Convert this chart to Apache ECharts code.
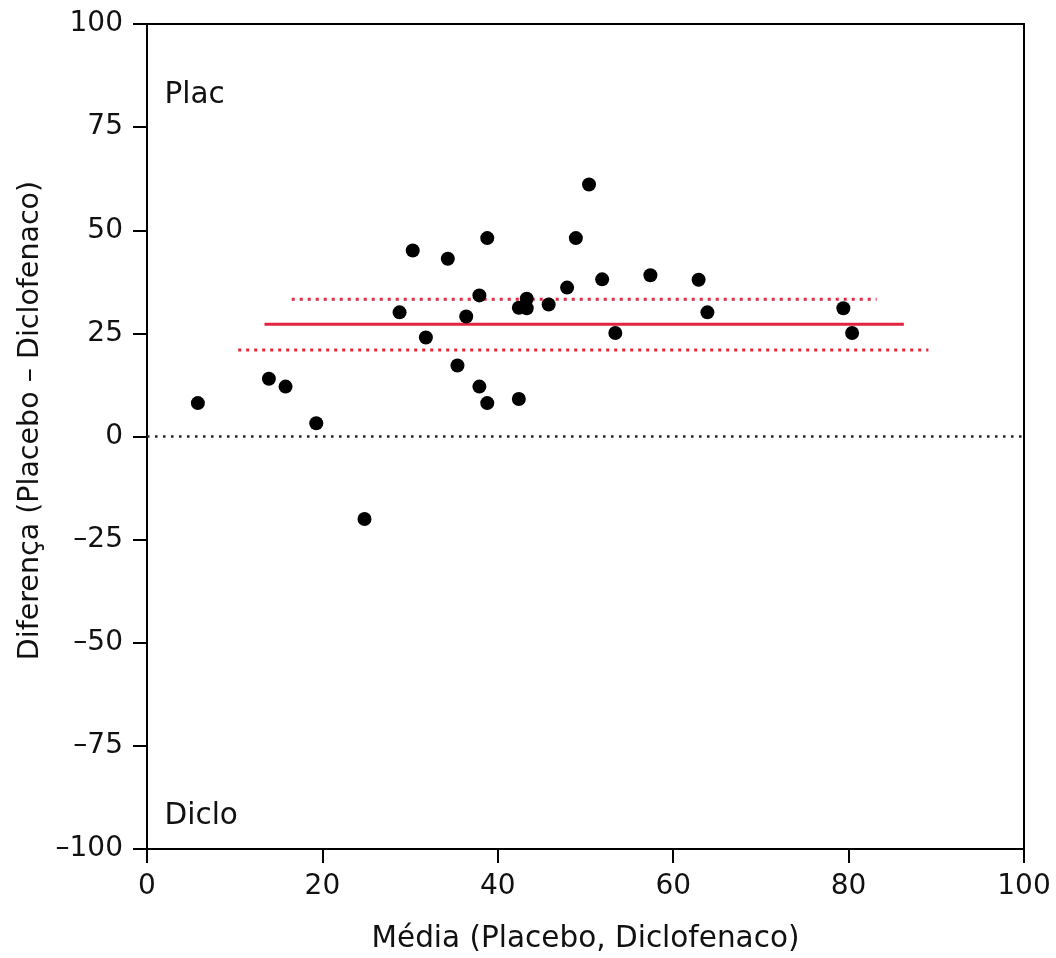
<!DOCTYPE html>
<html>
<head>
<meta charset="utf-8">
<script src="https://cdn.jsdelivr.net/npm/echarts@6/dist/echarts.min.js"></script>
<style>html,body{margin:0;padding:0;background:#fff}#c{width:1056px;height:958px}</style>
</head>
<body>
<div id="c"></div>
<script>
// Bland-Altman data: mean (x) and difference (y)
const meanVals = [5.8, 13.9, 15.8, 19.3, 24.8, 28.8, 30.3, 31.8, 34.3, 35.4, 36.4, 37.9, 37.9, 38.8, 38.8, 42.4, 42.4, 43.3, 43.3, 45.8, 47.9, 48.9, 50.4, 51.9, 53.4, 57.4, 62.9, 63.9, 79.4, 80.4];
const diffVals = [8.1, 14.0, 12.1, 3.2, -20.0, 30.1, 45.1, 24.0, 43.1, 17.2, 29.1, 34.2, 12.1, 48.1, 8.1, 31.2, 9.1, 33.4, 31.1, 32.0, 36.1, 48.1, 61.1, 38.1, 25.1, 39.1, 38.0, 30.1, 31.1, 25.1];
// mean difference line and its confidence band lines: [xStart, xEnd], y
const meanDiffX = [13.4, 86.3];
const meanDiff = 27.2;
const upperCIX = [16.5, 83.2];
const upperCI = 33.3;
const lowerCIX = [10.4, 89.1];
const lowerCI = 21.0;
const zeroLineX = [0, 100];
const xTicks = [0, 20, 40, 60, 80, 100];
const yTicks = [-100, -75, -50, -25, 0, 25, 50, 75, 100];
const annotations = [{text: 'Plac', x: 2.0, y: 82.7}, {text: 'Diclo', x: 2.0, y: -92.1}];

const FONT = 'DejaVu Sans';
const RED = '#e3243f';
const TXT = '#111';
const FS = 29.5;
const FL = 28;
const chart = echarts.init(document.getElementById('c'));
const fmt = v => (v < 0 ? '\u2013' + Math.abs(v) : String(v));
chart.setOption({
  animation: false,
  backgroundColor: '#fff',
  textStyle: {fontFamily: FONT},
  grid: {left: 147, right: 32, top: 24, bottom: 109, outerBoundsMode: 'none', containLabel: false,
         show: true, borderColor: '#000', borderWidth: 2, backgroundColor: 'transparent'},
  xAxis: {
    type: 'value', min: xTicks[0], max: xTicks[xTicks.length - 1], interval: 20,
    name: 'Média (Placebo, Diclofenaco)', nameLocation: 'middle', nameGap: 75,
    nameTextStyle: {fontFamily: FONT, fontSize: FS, color: TXT},
    axisLine: {show: true, onZero: false, lineStyle: {color: '#000', width: 2}},
    axisTick: {show: true, length: 14, lineStyle: {color: '#000', width: 2}},
    axisLabel: {fontFamily: FONT, fontSize: FL, color: TXT, margin: 24, formatter: fmt},
    splitLine: {show: false}
  },
  yAxis: {
    type: 'value', min: yTicks[0], max: yTicks[yTicks.length - 1], interval: 25,
    name: 'Diferença (Placebo \u2013 Diclofenaco)', nameLocation: 'middle', nameGap: 96, nameRotate: 90,
    nameTextStyle: {fontFamily: FONT, fontSize: 28.5, color: TXT, padding: [0, 0, 0, 32]},
    axisLine: {show: true, onZero: false, lineStyle: {color: '#000', width: 2}},
    axisTick: {show: true, length: 14, lineStyle: {color: '#000', width: 2}},
    axisLabel: {fontFamily: FONT, fontSize: FL, color: TXT, margin: 24, formatter: fmt},
    splitLine: {show: false}
  },
  series: [
    {type: 'line', data: zeroLineX.map(x => [x, 0]), symbol: 'none', silent: true,
     lineStyle: {color: '#222', width: 2.5, type: [2.5, 5.5]}},
    {type: 'line', data: upperCIX.map(x => [x, upperCI]), symbol: 'none', silent: true,
     lineStyle: {color: RED, width: 3, type: [3, 5]}},
    {type: 'line', data: lowerCIX.map(x => [x, lowerCI]), symbol: 'none', silent: true,
     lineStyle: {color: RED, width: 3, type: [3, 5]}},
    {type: 'line', data: meanDiffX.map(x => [x, meanDiff]), symbol: 'none', silent: true,
     lineStyle: {color: RED, width: 3}},
    {type: 'scatter', data: meanVals.map((x, i) => [x, diffVals[i]]), symbol: 'circle', symbolSize: 14,
     itemStyle: {color: '#000', opacity: 1}, z: 5},
    {type: 'scatter', data: annotations.map(a => ({value: [a.x, a.y], name: a.text})), symbolSize: 0,
     itemStyle: {opacity: 1},
     label: {show: true, position: 'right', distance: 0, formatter: p => p.name, fontFamily: FONT, fontSize: FS, color: TXT}}
  ]
});
</script>
</body>
</html>
